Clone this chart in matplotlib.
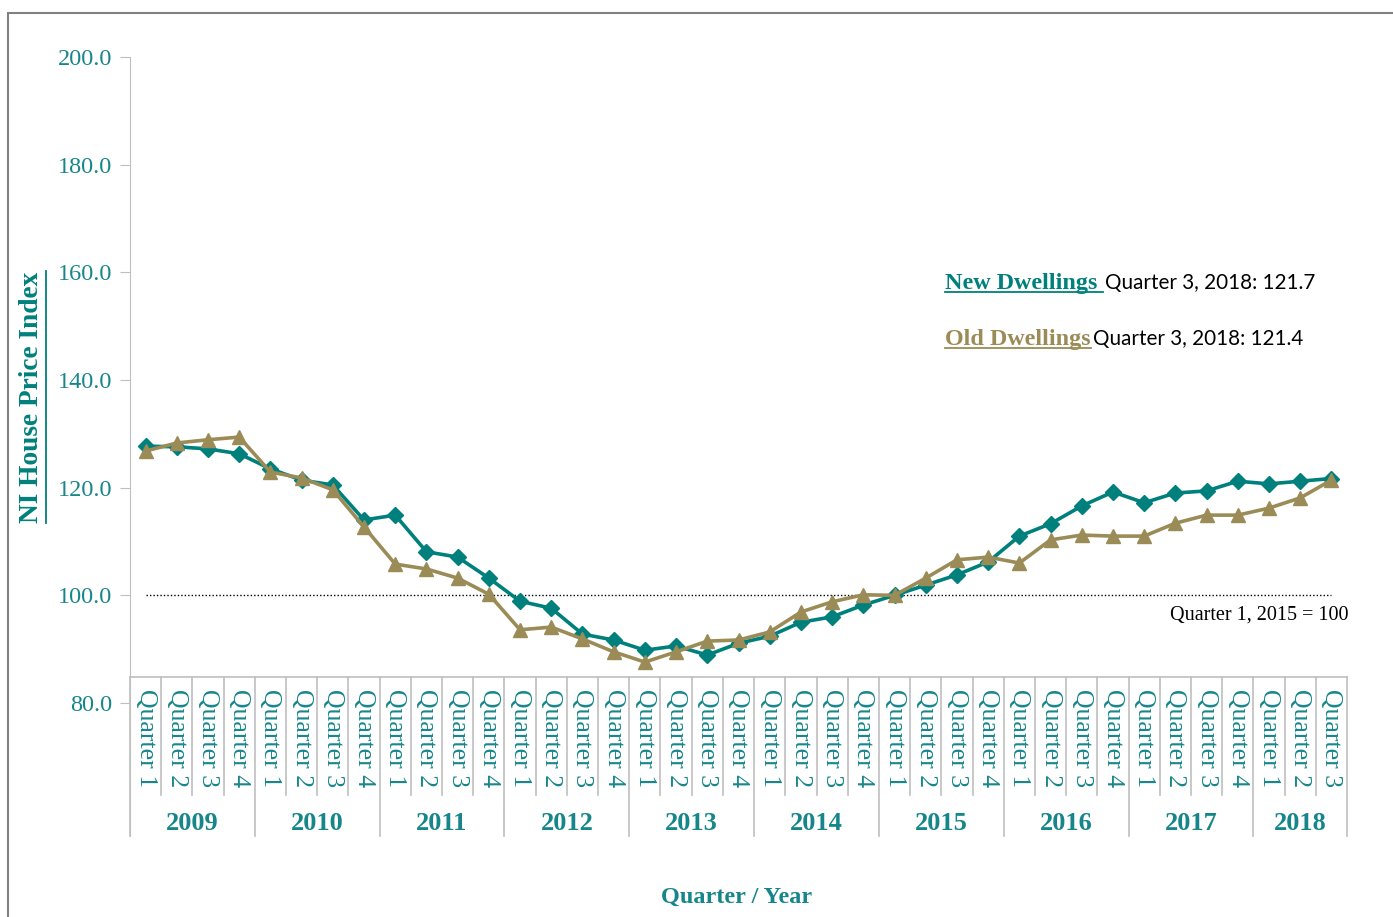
#NI House Price Index - new vs old dwellings

import matplotlib
matplotlib.use('Agg')
import matplotlib.pyplot as plt
from matplotlib.patches import Rectangle

years = ['2009', '2010', '2011', '2012', '2013', '2014', '2015', '2016', '2017', '2018']
quarters = ['Quarter 1', 'Quarter 2', 'Quarter 3', 'Quarter 4']

# index values, 2009 Q1 .. 2018 Q3
new_dwellings = [127.7, 127.6, 127.2, 126.3, 123.5, 121.4, 120.5, 114.0,
                 114.9, 108.1, 107.1, 103.2, 98.9, 97.6, 92.8, 91.7,
                 89.8, 90.6, 88.9, 91.1, 92.4, 95.0, 96.0, 98.2,
                 100.0, 101.9, 103.8, 106.2, 111.0, 113.3, 116.6, 119.2,
                 117.2, 119.0, 119.4, 121.2, 120.7, 121.2, 121.7]
old_dwellings = [126.8, 128.3, 128.9, 129.4, 122.9, 121.8, 119.6, 112.7,
                 105.8, 104.9, 103.2, 100.2, 93.6, 94.1, 91.9, 89.5,
                 87.6, 89.5, 91.5, 91.7, 93.2, 96.9, 98.8, 100.1,
                 100.0, 103.2, 106.6, 107.1, 106.0, 110.3, 111.2, 111.0,
                 111.0, 113.4, 114.9, 114.9, 116.2, 118.1, 121.4]
base_value = 100
yticks = [80, 100, 120, 140, 160, 180, 200]

teal = '#00807c'
gold = '#9b8c57'
label_teal = '#17868a'
serif = 'Liberation Serif'
sans = 'Lato'

n = len(new_dwellings)
x = list(range(n))
q_labels = [quarters[i % 4] for i in range(n)]

W, H = 1393, 917
fig = plt.figure(figsize=(W / 100, H / 100), dpi=100)

# outer frame
fig.patches.append(Rectangle((8 / W, -0.1), 2.0, 1 - 13 / H + 0.1, transform=fig.transFigure,
                             fill=False, edgecolor='#808080', linewidth=1.5))

ax = fig.add_axes([130 / W, 1 - 703 / H, (1347 - 130) / W, (703 - 57) / H])
ax.set_xlim(-0.5, n - 0.5)
ax.set_ylim(80, 200)
for s in ['top', 'right', 'bottom']:
    ax.spines[s].set_visible(False)
ax.spines['left'].set_color('#bfbfbf')
ax.spines['left'].set_bounds(55.3, 200)
ax.set_yticks(yticks)
ax.set_yticklabels(['%.1f' % v for v in yticks], fontsize=17.5, color=label_teal, family=serif)
ax.tick_params(axis='y', length=7, color='#bfbfbf', pad=6)
ax.set_xticks([])

# baseline at 100
ax.plot([0, n - 1], [base_value, base_value], color='black', linestyle=(0, (1, 1.5)), linewidth=1)
ax.text(n - 0.45, 96.3, 'Quarter 1, 2015 = 100', ha='right', va='center', fontsize=14.5,
        family=serif, color='black')

ax.plot(x, new_dwellings, color=teal, linewidth=2.6, marker='D', markersize=8, zorder=3)
ax.plot(x, old_dwellings, color=gold, linewidth=2.6, marker='^', markersize=10.5, zorder=4)

# category table below the plot
axis_y = 80 + (703 - 677) / 5.383
q_bottom = 80 - (795 - 703) / 5.383
y_bottom = 80 - (836 - 703) / 5.383
ax.plot([-0.5, n - 0.5], [axis_y, axis_y], color='#bfbfbf', linewidth=1.2, clip_on=False)
for i in range(n + 1):
    bottom = y_bottom if (i % 4 == 0 or i == n) else q_bottom
    ax.plot([i - 0.5, i - 0.5], [axis_y, bottom], color='#bfbfbf', linewidth=1.2, clip_on=False)
for i, lab in enumerate(q_labels):
    ax.text(i, axis_y - 2.3, lab, rotation=270, ha='center', va='top', fontsize=18.5,
            color=label_teal, family=serif, clip_on=False)
for j, yr in enumerate(years):
    last = min(4 * j + 3, n - 1)
    ax.text((4 * j + last) / 2, 80 - (823 - 703) / 5.383, yr, ha='center', va='center',
            fontsize=19, fontweight='bold', color=label_teal, family=serif, clip_on=False)

# axis titles
fig.text(737 / W, 1 - 897 / H, 'Quarter / Year', ha='center', va='center', fontsize=17.5,
         fontweight='bold', color=label_teal, family=serif)
ylab = fig.text(32 / W, 1 - 397 / H, 'NI House Price Index', ha='center', va='center',
                rotation=90, fontsize=19.7, fontweight='bold', color=teal, family=serif)

# annotations
t1 = fig.text(945 / W, 1 - 283 / H, 'New Dwellings ', ha='left', va='center', fontsize=17.4,
              fontweight='bold', color=teal, family=serif)
t2 = fig.text(945 / W, 1 - 339 / H, 'Old Dwellings', ha='left', va='center', fontsize=17.4,
              fontweight='bold', color=gold, family=serif)

fig.canvas.draw()
r = fig.canvas.get_renderer()
inv = fig.transFigure.inverted()

# underline the bold texts by hand
for t, col in [(t1, teal), (t2, gold)]:
    bb = t.get_window_extent(r)
    (x0, y0), (x1, y1) = inv.transform([[bb.x0, bb.y0], [bb.x1, bb.y1]])
    fig.add_artist(plt.Line2D([x0, x1], [y0 + 2 / H, y0 + 2 / H], color=col, linewidth=1.3,
                              transform=fig.transFigure))
    fig.text(x1 + 2 / W, 1 - (283 if t is t1 else 339) / H,
             'Quarter 3, 2018: ' + ('%.1f' % (new_dwellings[-1] if t is t1 else old_dwellings[-1])),
             ha='left', va='center', fontsize=14.9, color='black', family=sans)

bb = ylab.get_window_extent(r)
(x0, y0), (x1, y1) = inv.transform([[bb.x0, bb.y0], [bb.x1, bb.y1]])
fig.add_artist(plt.Line2D([x1 + 1 / W, x1 + 1 / W], [y0, y1], color=teal, linewidth=1.3,
                          transform=fig.transFigure))

fig.savefig('out.png', dpi=100)
